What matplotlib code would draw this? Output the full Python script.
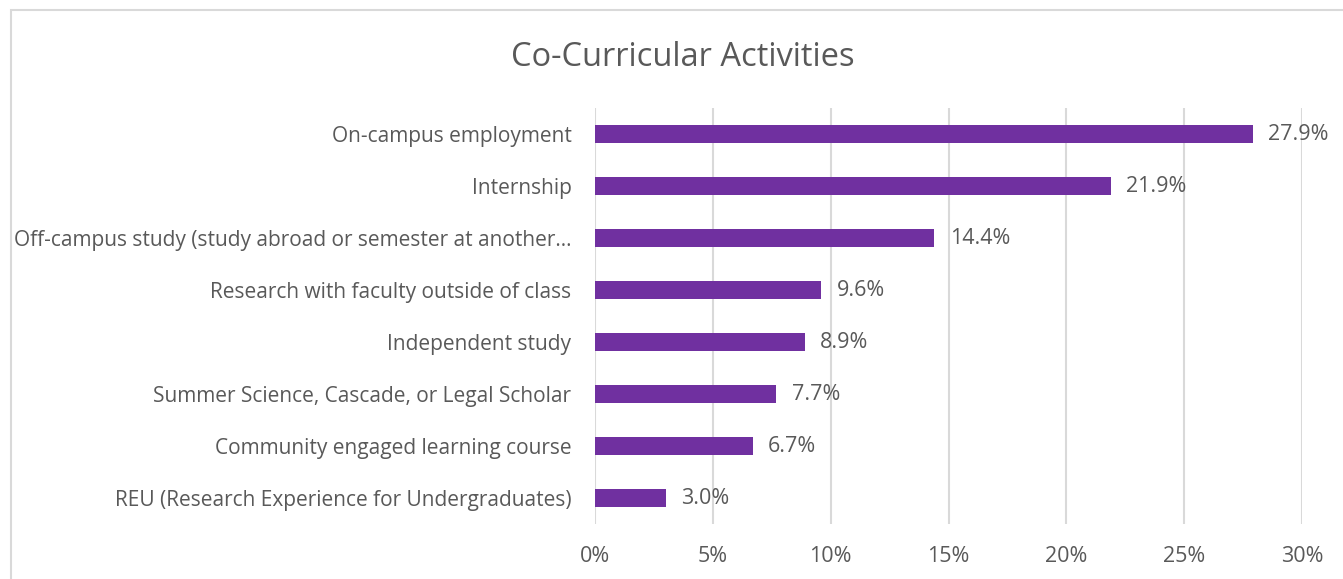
import matplotlib
matplotlib.use("Agg")
from matplotlib import pyplot as plt
from matplotlib.patches import Rectangle

# data
categories = [
    "On-campus employment",
    "Internship",
    "Off-campus study (study abroad or semester at another\u2026",
    "Research with faculty outside of class",
    "Independent study",
    "Summer Science, Cascade, or Legal Scholar",
    "Community engaged learning course",
    "REU (Research Experience for Undergraduates)",
]
values = [27.9, 21.9, 14.4, 9.6, 8.9, 7.7, 6.7, 3.0]
xticks = [0, 5, 10, 15, 20, 25, 30]

text_col = "#595959"
plt.rcParams["font.family"] = ["Open Sans", "DejaVu Sans"]

fig = plt.figure(figsize=(13.43, 5.79), dpi=100)
ax = fig.add_axes([595 / 1343, 1 - 524 / 579, (1302 - 595) / 1343, 416 / 579])

ypos = list(range(len(categories)))[::-1]
ax.barh(ypos, values, height=0.35, color="#7030A0", zorder=3)
for y, v in zip(ypos, values):
    ax.text(v + 0.65, y, f"{v:.1f}%", va="center", ha="left",
            fontsize=15.5, color=text_col, zorder=4)

ax.set_xlim(0, 30)
ax.set_ylim(-0.5, len(categories) - 0.5)
ax.set_yticks(ypos)
ax.set_yticklabels(categories, fontsize=15, color=text_col)
ax.set_xticks(xticks)
ax.set_xticklabels([f"{t}%" for t in xticks], fontsize=15.5, color=text_col)
ax.tick_params(axis="y", length=0, pad=17)
ax.tick_params(axis="x", length=0, pad=16)
ax.grid(axis="x", color="#D9D9D9", linewidth=1.5, zorder=0)
for s in ax.spines.values():
    s.set_visible(False)

fig.text(683 / 1343, 1 - 57 / 579, "Co-Curricular Activities", ha="center", va="center",
         fontsize=23.5, color=text_col)

# outer chart border (runs off the right and bottom edge)
fig.patches.append(Rectangle((11 / 1343, -0.1), 1.2, 1 - 10 / 579 + 0.1,
                             transform=fig.transFigure, fill=False,
                             edgecolor="#D9D9D9", linewidth=1.5))

plt.savefig("out.png", dpi=100)
